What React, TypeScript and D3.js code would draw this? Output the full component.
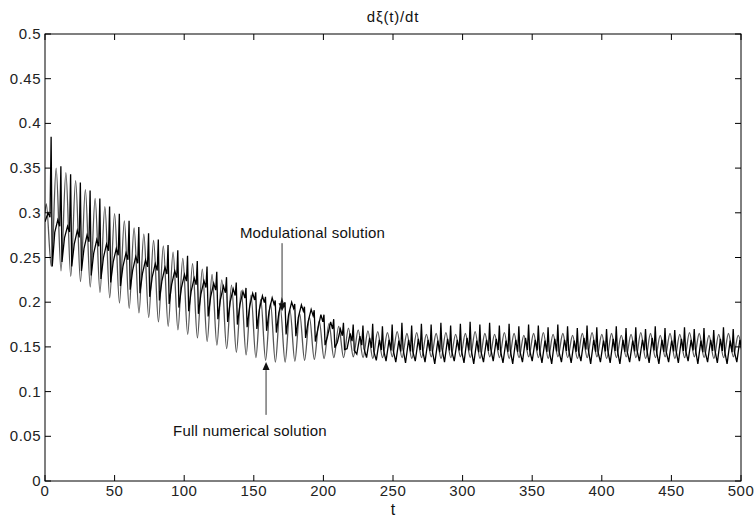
import React from "react";
import * as d3 from "d3";

// ---- Data (one entry per oscillation cycle, period ≈ 7) ----
const cyclePeriod = 7;
const xTicks = [0, 50, 100, 150, 200, 250, 300, 350, 400, 450, 500];
const yTicks = [0, 0.05, 0.1, 0.15, 0.2, 0.25, 0.3, 0.35, 0.4, 0.45, 0.5];

// Full numerical solution (grey): peak and trough of each cycle
const greyStart = 0.3;
const greyPeaks = [
  0.31, 0.35, 0.345, 0.336, 0.326, 0.316, 0.307, 0.299, 0.291, 0.283,
  0.276, 0.269, 0.263, 0.256, 0.249, 0.243, 0.237, 0.231, 0.225, 0.219,
  0.213, 0.208, 0.203, 0.199, 0.195, 0.191, 0.187, 0.183, 0.179, 0.176,
  0.173, 0.171, 0.169, 0.168, 0.167, 0.166, 0.167, 0.165, 0.166, 0.164,
  0.165, 0.166, 0.164, 0.165, 0.167, 0.165, 0.164, 0.166, 0.165, 0.163,
  0.165, 0.166, 0.164, 0.165, 0.163, 0.165, 0.166, 0.164, 0.165, 0.163,
  0.164, 0.166, 0.165, 0.163, 0.165, 0.164, 0.166, 0.165, 0.163, 0.164, 0.165, 0.163,
];
const greyTroughs = [
  0.24, 0.235, 0.229, 0.223, 0.217, 0.211, 0.205, 0.199, 0.193, 0.188,
  0.183, 0.178, 0.173, 0.169, 0.164, 0.16, 0.156, 0.152, 0.148, 0.144,
  0.141, 0.138, 0.135, 0.133, 0.133, 0.134, 0.135, 0.136, 0.137, 0.138,
  0.138, 0.139, 0.138, 0.137, 0.138, 0.139, 0.138, 0.137, 0.138, 0.139,
  0.137, 0.138, 0.139, 0.138, 0.137, 0.139, 0.138, 0.137, 0.138, 0.139,
  0.138, 0.137, 0.139, 0.138, 0.137, 0.138, 0.139, 0.137, 0.138, 0.139,
  0.138, 0.137, 0.138, 0.139, 0.137, 0.138, 0.139, 0.138, 0.137, 0.138, 0.139, 0.138,
];

// Modulational solution (black): band low, band high, spike top, dip after spike
const blackLow = [
  0.29, 0.278, 0.272, 0.265, 0.26, 0.255, 0.25, 0.245, 0.24, 0.236,
  0.232, 0.228, 0.224, 0.22, 0.216, 0.212, 0.209, 0.206, 0.203, 0.2,
  0.197, 0.195, 0.192, 0.19, 0.188, 0.186, 0.183, 0.178, 0.17, 0.162,
  0.155, 0.148, 0.142, 0.138, 0.135, 0.134, 0.133, 0.132, 0.134, 0.133,
  0.131, 0.133, 0.134, 0.132, 0.131, 0.133, 0.134, 0.132, 0.131, 0.133,
  0.134, 0.132, 0.131, 0.133, 0.132, 0.134, 0.131, 0.133, 0.132, 0.131,
  0.133, 0.134, 0.132, 0.131, 0.133, 0.132, 0.134, 0.131, 0.133, 0.132, 0.131, 0.133,
];
const blackHigh = [
  0.3, 0.292, 0.285, 0.28, 0.275, 0.27, 0.265, 0.26, 0.255, 0.251,
  0.247, 0.243, 0.239, 0.235, 0.231, 0.227, 0.224, 0.221, 0.218, 0.215,
  0.212, 0.21, 0.207, 0.205, 0.203, 0.2, 0.197, 0.192, 0.186, 0.178,
  0.17, 0.165, 0.162, 0.16, 0.158, 0.158, 0.157, 0.158, 0.159, 0.158,
  0.157, 0.159, 0.158, 0.16, 0.157, 0.158, 0.159, 0.157, 0.158, 0.16,
  0.158, 0.157, 0.159, 0.158, 0.157, 0.16, 0.158, 0.157, 0.159, 0.158,
  0.157, 0.158, 0.16, 0.158, 0.157, 0.159, 0.158, 0.157, 0.158, 0.159, 0.157, 0.158,
];
const blackSpike = [
  0.385, 0.352, 0.343, 0.334, 0.325, 0.316, 0.307, 0.299, 0.291, 0.284,
  0.277, 0.27, 0.264, 0.258, 0.252, 0.246, 0.24, 0.234, 0.228, 0.222,
  0.216, 0.211, 0.206, 0.202, 0.2, 0.198, 0.195, 0.191, 0.186, 0.181,
  0.177, 0.175, 0.174, 0.176, 0.173, 0.175, 0.177, 0.174, 0.176, 0.175,
  0.177, 0.174, 0.176, 0.178, 0.175, 0.177, 0.174, 0.176, 0.173, 0.175,
  0.174, 0.172, 0.175, 0.173, 0.171, 0.174, 0.172, 0.17, 0.173, 0.171,
  0.172, 0.17, 0.173, 0.171, 0.169, 0.172, 0.17, 0.171, 0.169, 0.172, 0.17, 0.168,
];
const blackDip = [
  0.24, 0.245, 0.24, 0.235, 0.23, 0.226, 0.222, 0.218, 0.214, 0.21,
  0.206, 0.202, 0.198, 0.194, 0.19, 0.187, 0.184, 0.181, 0.178, 0.175,
  0.172, 0.17, 0.168, 0.166, 0.164, 0.162, 0.16, 0.156, 0.152, 0.149,
  0.147, 0.146, 0.148, 0.145, 0.147, 0.146, 0.148, 0.145, 0.147, 0.146,
  0.148, 0.145, 0.146, 0.147, 0.145, 0.148, 0.146, 0.147, 0.145, 0.146,
  0.148, 0.146, 0.145, 0.147, 0.146, 0.148, 0.145, 0.147, 0.146, 0.145,
  0.147, 0.148, 0.146, 0.145, 0.147, 0.146, 0.148, 0.145, 0.147, 0.146, 0.145, 0.147,
];

// Annotations: positions in data units
const modLabel = { text: "Modulational solution", t: 140, y: 0.272, arrowT: 170.3, from: 0.266, to: 0.19 };
const fullLabel = { text: "Full numerical solution", t: 92, y: 0.05, arrowT: 158.8, from: 0.074, to: 0.133 };

const W = 754;
const H = 517;
const M = { left: 45, top: 34, right: 13, bottom: 36 };

export default function App() {
  const x = d3.scaleLinear().domain([0, 500]).range([M.left, W - M.right]);
  const y = d3.scaleLinear().domain([0, 0.5]).range([H - M.bottom, M.top]);

  const greyPts: [number, number][] = [[0, greyStart]];
  greyPeaks.forEach((p, k) => {
    greyPts.push([k * cyclePeriod + 1, p]);
    greyPts.push([k * cyclePeriod + 4.5, greyTroughs[k]]);
  });
  const blackPts: [number, number][] = [];
  blackLow.forEach((lo, k) => {
    const t0 = k * cyclePeriod;
    blackPts.push([t0, lo]);
    blackPts.push([t0 + 2.2, blackHigh[k]]);
    blackPts.push([t0 + 3.6, (lo + blackHigh[k]) / 2]);
    blackPts.push([t0 + 4.4, blackSpike[k]]);
    blackPts.push([t0 + 5.2, blackDip[k]]);
  });

  const greyLine = d3
    .line<[number, number]>()
    .x((d) => x(d[0]))
    .y((d) => y(d[1]))
    .curve(d3.curveCatmullRom.alpha(0.5));
  const blackLine = d3
    .line<[number, number]>()
    .x((d) => x(d[0]))
    .y((d) => y(d[1]))
    .curve(d3.curveLinear);

  const x0 = M.left, x1 = W - M.right, y0 = H - M.bottom, y1 = M.top;
  const tl = 6;
  const font = "'Liberation Sans', Arial, sans-serif";

  const arrow = (t: number, from: number, to: number) => {
    const ax = x(t);
    const ay0 = y(from);
    const ay1 = y(to);
    const dir = ay1 > ay0 ? 1 : -1;
    const hl = 8;
    const hw = 3.5;
    return (
      <g>
        <line x1={ax} y1={ay0} x2={ax} y2={ay1 - dir * hl} stroke="#333" strokeWidth={1} />
        <path
          d={`M${ax},${ay1} L${ax - hw},${ay1 - dir * hl} L${ax + hw},${ay1 - dir * hl} Z`}
          fill="#111"
        />
      </g>
    );
  };

  return (
    <svg
      width={W}
      height={H}
      style={{ position: "absolute", left: 0, top: 0, background: "#fff" }}
      fontFamily={font}
    >
      <rect x={0} y={0} width={W} height={H} fill="#fff" />
      <defs>
        <clipPath id="plotclip">
          <rect x={x0} y={y1} width={x1 - x0} height={y0 - y1} />
        </clipPath>
      </defs>
      <g clipPath="url(#plotclip)">
        <path d={greyLine(greyPts) || ""} fill="none" stroke="#555" strokeWidth={1.3} />
        <path d={blackLine(blackPts) || ""} fill="none" stroke="#000" strokeWidth={1.3} />
      </g>

      {/* axes box */}
      <rect x={x0} y={y1} width={x1 - x0} height={y0 - y1} fill="none" stroke="#000" strokeWidth={1} />
      {xTicks.map((t) => (
        <g key={"x" + t}>
          <line x1={x(t)} x2={x(t)} y1={y0} y2={y0 - tl} stroke="#000" />
          <line x1={x(t)} x2={x(t)} y1={y1} y2={y1 + tl} stroke="#000" />
          <text x={x(t)} y={y0 + 15} textAnchor="middle" fontSize={15} letterSpacing={0.5} fill="#222">
            {t}
          </text>
        </g>
      ))}
      {yTicks.map((v) => (
        <g key={"y" + v}>
          <line x1={x0} x2={x0 + tl} y1={y(v)} y2={y(v)} stroke="#000" />
          <line x1={x1} x2={x1 - tl} y1={y(v)} y2={y(v)} stroke="#000" />
          <text x={x0 - 4} y={y(v) + 5} textAnchor="end" fontSize={15} letterSpacing={0.5} fill="#222">
            {String(v)}
          </text>
        </g>
      ))}

      <text x={(x0 + x1) / 2} y={22} textAnchor="middle" fontSize={15} letterSpacing={0.8} fill="#111">
        dξ(t)/dt
      </text>
      <text x={(x0 + x1) / 2} y={515} textAnchor="middle" fontSize={16} fill="#111">
        t
      </text>

      <text x={x(modLabel.t)} y={y(modLabel.y)} fontSize={15} letterSpacing={0.2} fill="#111">
        {modLabel.text}
      </text>
      {arrow(modLabel.arrowT, modLabel.from, modLabel.to)}
      <text x={x(fullLabel.t)} y={y(fullLabel.y)} fontSize={15} letterSpacing={0.2} fill="#111">
        {fullLabel.text}
      </text>
      {arrow(fullLabel.arrowT, fullLabel.from, fullLabel.to)}
    </svg>
  );
}
